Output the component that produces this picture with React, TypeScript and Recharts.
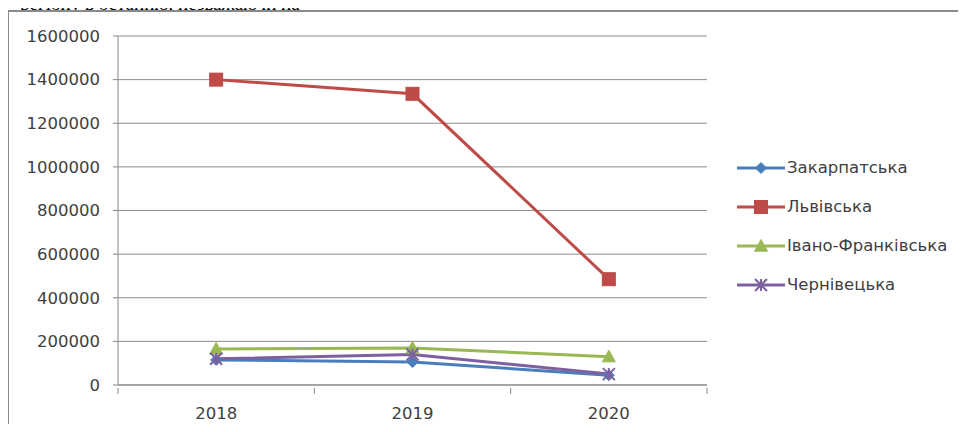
import React from 'react';
import { LineChart, Line, XAxis, YAxis, CartesianGrid, Legend } from 'recharts';

// categories and series values
const years = ['2018', '2019', '2020'];
const zakarpatska = [115000, 105000, 45000];
const lvivska = [1400000, 1335000, 485000];
const ivanoFrankivska = [165000, 170000, 130000];
const chernivetska = [120000, 140000, 50000];
const yTicks = [0, 200000, 400000, 600000, 800000, 1000000, 1200000, 1400000, 1600000];

const data = years.map((year, i) => ({
  year,
  pos: i + 0.5,
  zakarpatska: zakarpatska[i],
  lvivska: lvivska[i],
  ivanoFrankivska: ivanoFrankivska[i],
  chernivetska: chernivetska[i],
}));

// tick positions: band edges get a tick mark, band centres get the year label
const xTicks = [0, 0.5, 1, 1.5, 2, 2.5, 3];

const FONT = '"DejaVu Sans", sans-serif';
const TEXT = '#404040';
const FS = 16.5;

type Shape = 'diamond' | 'square' | 'triangle' | 'star';

const Marker = ({ shape, color, cx, cy }: { shape: Shape; color: string; cx: number; cy: number }) => {
  if (shape === 'diamond') {
    const r = 5.5;
    return <polygon points={`${cx},${cy - r} ${cx + r},${cy} ${cx},${cy + r} ${cx - r},${cy}`} fill={color} stroke={color} />;
  }
  if (shape === 'square') {
    const r = 6.5;
    return <rect x={cx - r} y={cy - r} width={r * 2} height={r * 2} fill={color} stroke={color} />;
  }
  if (shape === 'triangle') {
    const r = 6.5;
    return <polygon points={`${cx},${cy - r} ${cx + r},${cy + r * 0.8} ${cx - r},${cy + r * 0.8}`} fill={color} stroke={color} />;
  }
  const r = 6;
  return (
    <g stroke={color} strokeWidth={2}>
      <line x1={cx - r} y1={cy - r} x2={cx + r} y2={cy + r} />
      <line x1={cx - r} y1={cy + r} x2={cx + r} y2={cy - r} />
      <line x1={cx} y1={cy - r} x2={cx} y2={cy + r} />
    </g>
  );
};

const series: { key: string; name: string; color: string; shape: Shape }[] = [
  { key: 'zakarpatska', name: 'Закарпатська', color: '#4a7ebb', shape: 'diamond' },
  { key: 'lvivska', name: 'Львівська', color: '#be4b48', shape: 'square' },
  { key: 'ivanoFrankivska', name: 'Івано-Франківська', color: '#98b954', shape: 'triangle' },
  { key: 'chernivetska', name: 'Чернівецька', color: '#7d60a0', shape: 'star' },
];

const XTick = (props: any) => {
  const { x, y, payload } = props;
  const v = payload.value as number;
  if (Number.isInteger(v)) {
    return <line x1={x} y1={y - 5} x2={x} y2={y + 1} stroke="#868686" />;
  }
  return (
    <text x={x} y={y + 26} textAnchor="middle" fill={TEXT} fontSize={FS} fontFamily={FONT}>
      {years[Math.floor(v)]}
    </text>
  );
};

const LegendBox = () => (
  <div style={{ fontFamily: FONT, fontSize: FS, color: TEXT }}>
    {series.map((s) => (
      <div key={s.key} style={{ display: 'flex', alignItems: 'center', height: 39 }}>
        <svg width={48} height={16} style={{ marginRight: 2 }}>
          <line x1={0} y1={8} x2={48} y2={8} stroke={s.color} strokeWidth={3} />
          <Marker shape={s.shape} color={s.color} cx={24} cy={8} />
        </svg>
        <span>{s.name}</span>
      </div>
    ))}
  </div>
);

export default function App() {
  return (
    <div style={{ position: 'relative', width: 966, height: 432, margin: -8, overflow: 'hidden', background: '#fff' }}>
      <div
        style={{
          position: 'absolute',
          left: 20,
          top: -7,
          fontFamily: '"Liberation Serif", serif',
          fontSize: 19,
          lineHeight: '22px',
          whiteSpace: 'nowrap',
          color: '#000',
        }}
      >
        регіону в останню, незважаючи на
      </div>
      <div
        style={{
          position: 'absolute',
          left: 7,
          top: 10,
          width: 970,
          height: 440,
          borderTop: '2px solid #8a8a8a',
          borderLeft: '2px solid #8a8a8a',
          boxSizing: 'border-box',
          background: '#fff',
        }}
      />
      <div style={{ position: 'absolute', left: 8, top: 11 }}>
        <LineChart width={958} height={421} data={data} margin={{ top: 25, right: 259, bottom: 0, left: 0 }}>
          <CartesianGrid vertical={false} stroke="#8c8c8c" strokeWidth={1} />
          <XAxis
            dataKey="pos"
            type="number"
            domain={[0, 3]}
            ticks={xTicks}
            interval={0}
            height={47}
            tickLine={false}
            tick={<XTick />}
            axisLine={{ stroke: '#868686' }}
          />
          <YAxis
            domain={[0, 1600000]}
            ticks={yTicks}
            interval={0}
            width={110}
            tickSize={5}
            tickMargin={13}
            tickLine={{ stroke: '#868686' }}
            axisLine={{ stroke: '#868686' }}
            tick={{ fill: TEXT, fontSize: FS, fontFamily: FONT }}
          />
          <Legend
            layout="horizontal"
            align="center"
            verticalAlign="middle"
            content={<LegendBox />}
            wrapperStyle={{ position: 'absolute', left: 729, top: 137, width: 229, margin: 0 }}
          />
          {series.map((s) => (
            <Line
              key={s.key}
              dataKey={s.key}
              name={s.name}
              stroke={s.color}
              strokeWidth={3}
              isAnimationActive={false}
              dot={(p: any) => <Marker key={`${s.key}-${p.index}`} shape={s.shape} color={s.color} cx={p.cx} cy={p.cy} />}
              activeDot={false}
            />
          ))}
        </LineChart>
      </div>
    </div>
  );
}
